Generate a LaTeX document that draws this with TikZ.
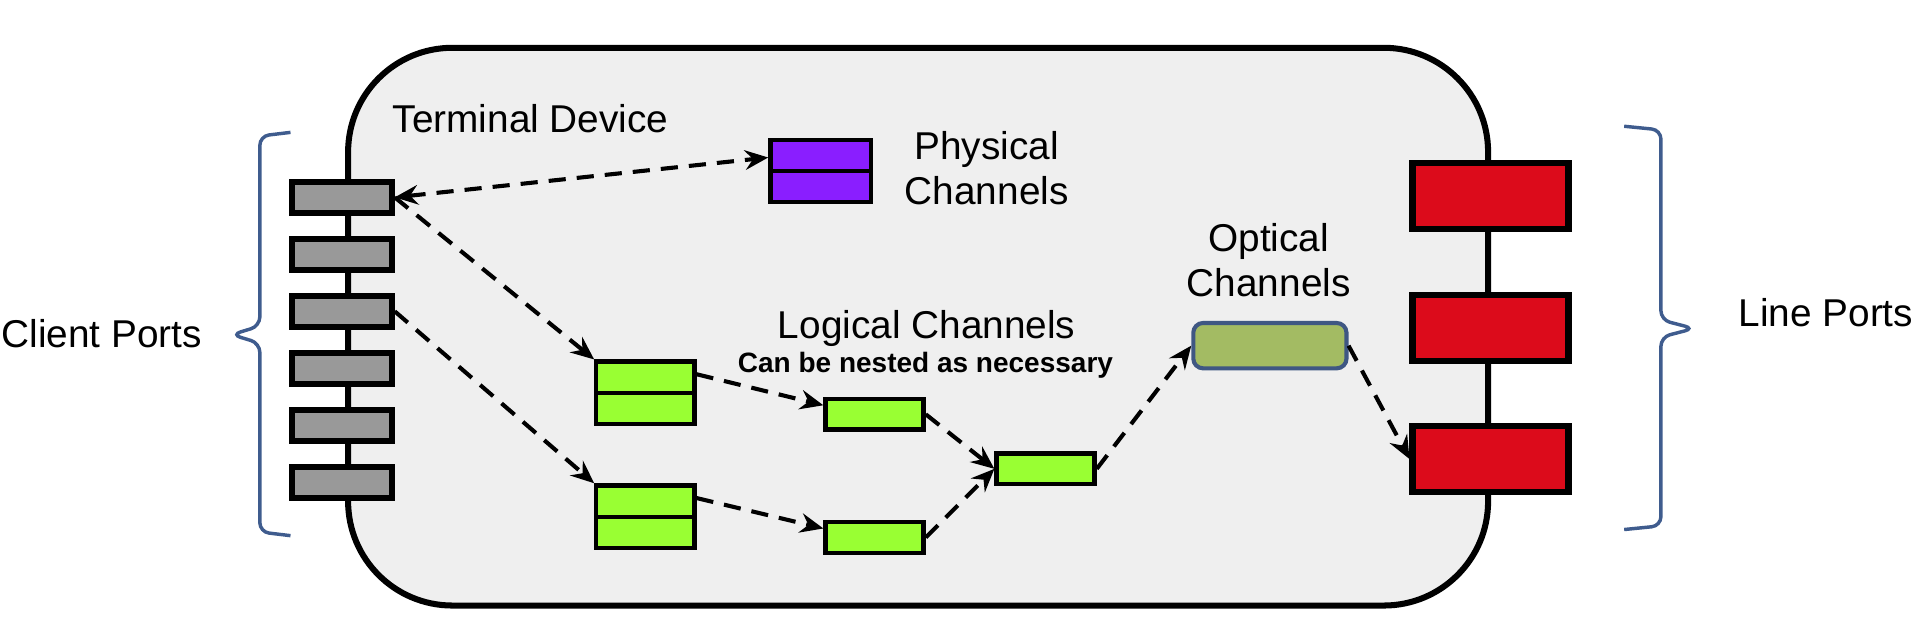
\documentclass[tikz,border=0pt]{standalone}
\usepackage{fontspec}
\setmainfont{Liberation Sans}
\usetikzlibrary{arrows.meta}

\definecolor{devfill}{HTML}{EFEFEF}
\definecolor{portgray}{HTML}{999999}
\definecolor{portred}{HTML}{DC0B1B}
\definecolor{physpurple}{HTML}{8A1EFF}
\definecolor{chgreen}{HTML}{99FF33}
\definecolor{optgreen}{HTML}{A3BB63}
\definecolor{optblue}{HTML}{3F5783}
\definecolor{bracecol}{HTML}{3F5C8E}

\begin{document}
\begin{tikzpicture}[x=0.2mm,y=-0.2mm,
        >={Stealth[length=3.8mm,width=3.2mm,inset=1.3mm]},
        box/.style={draw=black,line width=2pt,inner sep=0pt},
        cport/.style={box,line width=2.9pt,fill=portgray,minimum width=1.62cm,minimum height=0.5cm},
        lport/.style={box,line width=3pt,fill=portred,minimum width=2.54cm,minimum height=1.08cm},
        chan/.style={box,fill=chgreen,minimum width=1.6cm,minimum height=0.5cm},
        dchan/.style={chan,minimum height=1.02cm},
        link/.style={->,line width=1.9pt,dash pattern=on 2.8mm off 1.8mm},
        lbl/.style={font=\fontsize{18}{21}\selectfont,align=center,inner sep=0pt},
        brace/.style={draw=bracecol,line width=1.6pt,rounded corners=1.5mm}]
    % \draw[help lines,step=100] (0,0) grid (1568,525);
    \useasboundingbox (0,0) rectangle (1568,525);

    % device body
    \node[draw,line width=2.8pt,fill=devfill,rounded corners=1.7cm,minimum width=18.6cm,minimum height=9.1cm] (dev) at (749,266.5) {};
    \node[lbl,anchor=west] (devlbl) at (320,97) {Terminal Device};

    % client and line ports
    \foreach \i in {1,...,6}
        \node[cport] (c\i) at (279,{161+46.5*(\i-1)}) {};
    \foreach \i/\y in {1/160,2/267.5,3/374.5}
        \node[lport] (l\i) at (1216,\y) {};

    % braces
    \draw[brace] (237,108) -- (212,111) -- (212,266) -- (189,273) -- (212,280) -- (212,434) -- (237,437);
    \draw[brace] (1325,103) -- (1355,106) -- (1355,261) -- (1382,268) -- (1355,275) -- (1355,429) -- (1325,432);
    \node[lbl,anchor=west] (cplbl) at (1,272) {Client Ports};
    \node[lbl,anchor=west] (lplbl) at (1418,255) {Line Ports};

    % channels
    \node[dchan,fill=physpurple,minimum width=1.64cm] (phys) at (669.5,139.5) {};
    \draw[line width=2pt] (phys.west) -- (phys.east);
    \node[lbl] (physlbl) at (805,137) {Physical\\Channels};

    \node[dchan] (g1) at (526.5,320.5) {};
    \node[dchan] (g2) at (526.5,421.5) {};
    \draw[line width=2pt] (g1.west) -- (g1.east) (g2.west) -- (g2.east);
    \node[chan] (g3) at (713.5,338) {};
    \node[chan] (g4) at (713.5,438.5) {};
    \node[chan] (g5) at (853,382.5) {};
    \node[lbl] (loglbl) at (756,268) {Logical Channels};
    \node[font=\bfseries\fontsize{13}{15}\selectfont,inner sep=0pt] (nestlbl) at (755,298) {Can be nested as necessary};

    \node[draw=optblue,line width=1.9pt,fill=optgreen,rounded corners=1.6mm,minimum width=2.5cm,minimum height=0.74cm] (opt) at (1036,282) {};
    \node[lbl] (optlbl) at (1035,212) {Optical\\Channels};

    % links
    \draw[link,<->] (c1.east) -- ([yshift=2.2mm]phys.west);
    \draw[link] (c1.east) -- (g1.north west);
    \draw[link] (c3.east) -- (g2.north west);
    \draw[link] (g1.20) -- (g3.170);
    \draw[link] (g2.20) -- (g4.170);
    \draw[link] (g3.east) -- (g5.west);
    \draw[link] (g4.east) -- (g5.west);
    \draw[link] (g5.east) -- (opt.west);
    \draw[link] (opt.east) -- (l3.west);
\end{tikzpicture}
\end{document}
